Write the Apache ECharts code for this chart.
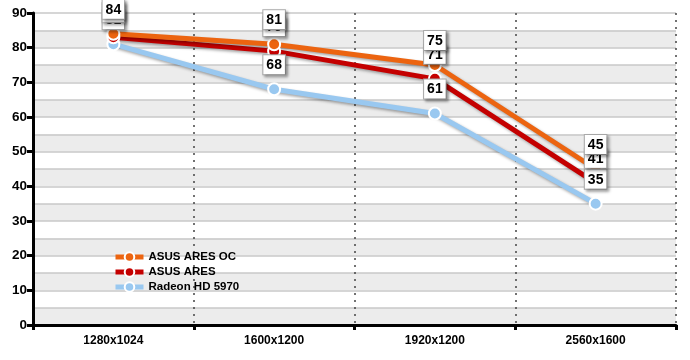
<!DOCTYPE html>
<html><head><meta charset="utf-8">
<script src="https://cdn.jsdelivr.net/npm/echarts@6/dist/echarts.min.js"></script>
<style>html,body{margin:0;padding:0;background:#fff}#c{width:690px;height:360px}</style>
</head><body><div id="c"></div>
<script>
const categories = ['1280x1024', '1600x1200', '1920x1200', '2560x1600'];
const aresOC = [84, 81, 75, 45];
const ares = [83, 79, 71, 41];
const radeon = [81, 68, 61, 35];
const yTicks = [0, 10, 20, 30, 40, 50, 60, 70, 80, 90];

const chart = echarts.init(document.getElementById('c'));
const font = 'Liberation Sans, Arial, sans-serif';
function mkSeries(name, data, color) {
  return {
    name: name, type: 'line', data: data, yAxisIndex: 0,
    symbol: 'circle', symbolSize: 12,
    itemStyle: { color: color, borderColor: '#fff', borderWidth: 2 },
    lineStyle: { color: color, width: 5, shadowColor: 'rgba(0,0,0,0.35)', shadowBlur: 3, shadowOffsetX: 2, shadowOffsetY: 2 },
    label: {
      show: true, position: 'top', distance: 8,
      color: '#000', fontFamily: font, fontWeight: 'bold', fontSize: 14,
      backgroundColor: '#fff', borderColor: '#aaa', borderWidth: 1,
      padding: [3, 3, 2, 3],
      shadowColor: 'rgba(0,0,0,0.35)', shadowBlur: 3, shadowOffsetX: 2, shadowOffsetY: 2
    },
    emphasis: { disabled: true }
  };
}
chart.setOption({
  animation: false,
  grid: { left: 33, right: 14, top: 13, bottom: 35 },
  legend: {
    data: ['ASUS ARES OC', 'ASUS ARES', 'Radeon HD 5970'],
    orient: 'vertical', left: 108, top: 246, itemGap: 3,
    itemWidth: 28, itemHeight: 12,
    lineStyle: { width: 5 },
    textStyle: { fontFamily: font, fontWeight: 'bold', fontSize: 11.5, color: '#000' }
  },
  xAxis: {
    type: 'category', data: categories, boundaryGap: true,
    axisLine: { lineStyle: { color: '#000', width: 3 } },
    axisTick: { show: true, length: 5, lineStyle: { color: '#000', width: 3 } },
    axisLabel: { fontFamily: font, fontWeight: 'bold', fontSize: 12, color: '#000', margin: 10 },
    splitLine: { show: true, lineStyle: { type: [2, 5], color: '#444', width: 1.5 } }
  },
  yAxis: [{
    type: 'value', min: 0, max: 90, interval: 10,
    axisLine: { show: true, lineStyle: { color: '#000', width: 3 } },
    axisTick: { show: true, length: 6, lineStyle: { color: '#000', width: 3 } },
    axisLabel: { fontFamily: font, fontWeight: 'bold', fontSize: 13.5, color: '#000', margin: 6,
      formatter: v => yTicks.includes(v) ? String(v) : '' },
    splitLine: { show: false }, z: 5
  }, {
    type: 'value', min: 0, max: 90, interval: 5, position: 'left',
    axisLine: { show: false }, axisTick: { show: false }, axisLabel: { show: false },
    splitLine: { show: true, lineStyle: { color: '#c8c8c8', width: 1.5 } },
    splitArea: { show: true, areaStyle: { color: ['#ececec', '#ffffff'] } }
  }],
  series: [
    mkSeries('Radeon HD 5970', radeon, '#99c8f0'),
    mkSeries('ASUS ARES', ares, '#c40000'),
    mkSeries('ASUS ARES OC', aresOC, '#ec6410')
  ]
});
</script></body></html>
